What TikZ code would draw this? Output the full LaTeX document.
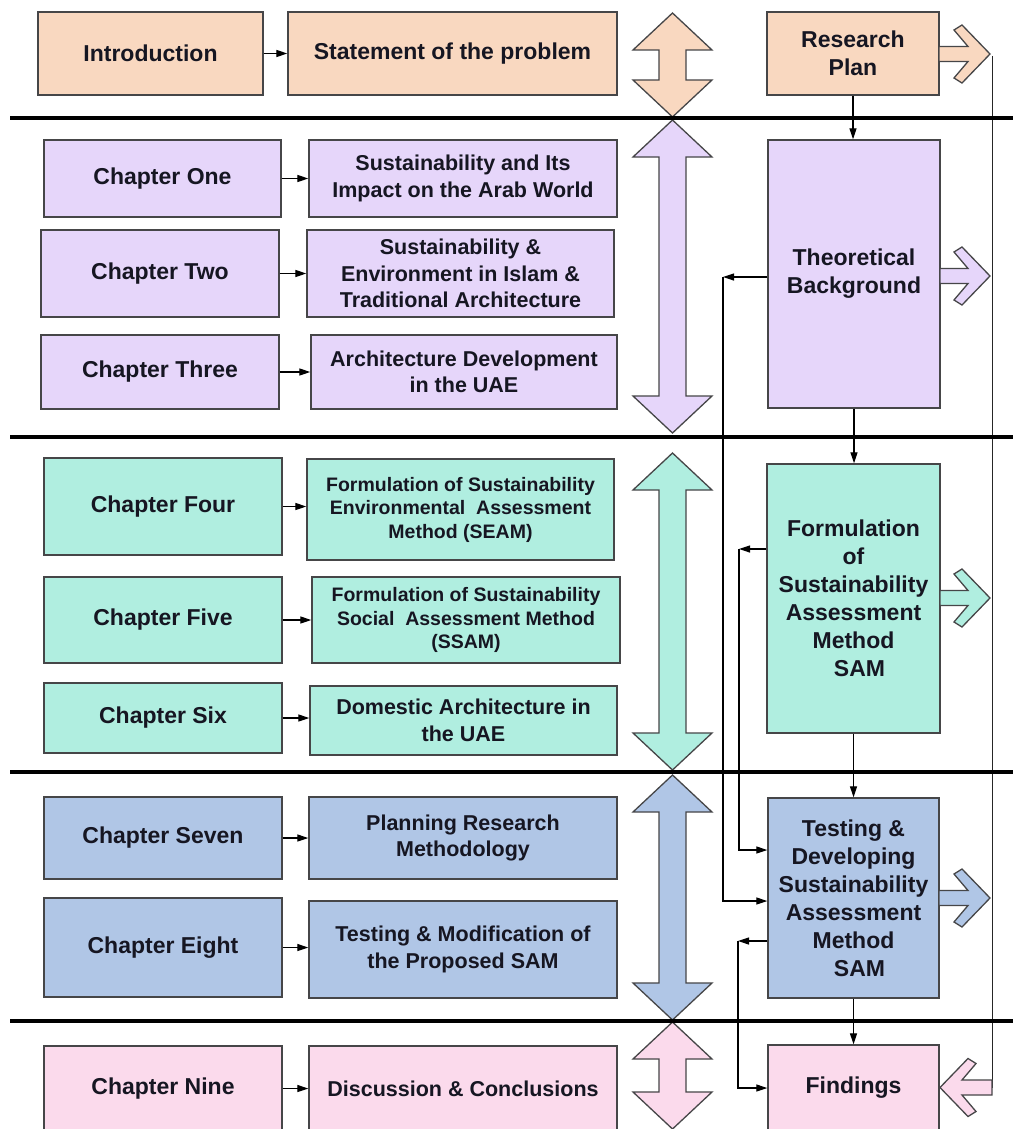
\documentclass[tikz,border=0pt]{standalone}
\usepackage{fontspec}
\setmainfont{Liberation Sans}
\usetikzlibrary{arrows.meta}

\definecolor{peach}{RGB}{249,216,192}
\definecolor{lav}{RGB}{230,214,250}
\definecolor{mint}{RGB}{176,238,224}
\definecolor{steel}{RGB}{176,198,230}
\definecolor{rose}{RGB}{251,218,236}
\definecolor{edgec}{RGB}{70,70,72}
\definecolor{txtc}{RGB}{22,22,34}

\tikzset{
  box/.style={draw=edgec, line width=1.4pt, text=txtc, align=center, inner sep=0pt,
              font=\bfseries\fontsize{23}{28}\selectfont},
  sub/.style={font=\bfseries\fontsize{21.5}{26.5}\selectfont},
  small/.style={font=\bfseries\fontsize{19.5}{23.5}\selectfont},
  conn/.style={draw=black, line width=1.2pt, -{Triangle[length=11pt,width=7pt]}},
  link/.style={draw=black!85, line width=1.2pt},
  sep/.style={draw=black, line width=4.5pt},
  blk/.style={draw=edgec, line width=1.3pt, line join=miter},
}

% right-pointing chevron block arrow: fill, start x, centre y
\newcommand\rightchev[3]{%
  \filldraw[blk, fill=#1] (#2,{#3-7.5}) -- (968,{#3-7.5}) -- (954,{#3-24}) -- (962,{#3-29})
    -- (990,#3) -- (962,{#3+29}) -- (954,{#3+24}) -- (968,{#3+7.5}) -- (#2,{#3+7.5}) -- cycle;}
% left-pointing chevron block arrow: fill, centre y
\newcommand\leftchev[2]{%
  \filldraw[blk, fill=#1] (992,{#2-7.5}) -- (962,{#2-7.5}) -- (976,{#2-24}) -- (968,{#2-29})
    -- (940,#2) -- (968,{#2+29}) -- (976,{#2+24}) -- (962,{#2+7.5}) -- (992,{#2+7.5}) -- cycle;}
% vertical double arrow: fill, top tip y, bottom tip y
\newcommand\dblarrow[3]{%
  \filldraw[blk, fill=#1] (672.5,#2) -- (712,{#2+37}) -- (686,{#2+37}) -- (686,{#3-37})
    -- (712,{#3-37}) -- (672.5,#3) -- (633,{#3-37}) -- (659,{#3-37}) -- (659,{#2+37})
    -- (633,{#2+37}) -- cycle;}

\begin{document}
\begin{tikzpicture}[x=1pt,y=-1pt]
\useasboundingbox (0,0) rectangle (1013,1129);
\fill[white] (0,0) rectangle (1013,1129);

% ---- stage arrows in the middle column
\dblarrow{peach}{13}{117}
\dblarrow{lav}{120}{433}
\dblarrow{mint}{453}{770}
\dblarrow{steel}{775}{1020}
\dblarrow{rose}{1022}{1129}

% ---- introduction
\node[box, fill=peach, minimum width=225pt, minimum height=83pt] (intro) at (150.5,53.5) {Introduction};
\node[box, fill=peach, minimum width=329pt, minimum height=83pt] (stmt) at (452.5,53.5) {Statement of the problem};
\node[box, fill=peach, minimum width=172pt, minimum height=83pt] (plan) at (853,53.5) {Research\\Plan};

% ---- part one
\node[box, fill=lav, minimum width=237pt, minimum height=77pt] (ch1) at (162.5,178.5) {Chapter One};
\node[box, sub, fill=lav, minimum width=308pt, minimum height=77pt] (ch1r) at (463,178.5) {Sustainability and Its\\Impact on the Arab World};
\node[box, fill=lav, minimum width=238pt, minimum height=87pt] (ch2) at (160,273.5) {Chapter Two};
\node[box, sub, fill=lav, minimum width=307pt, minimum height=87pt] (ch2r) at (460.5,273.5) {Sustainability \&\\Environment in Islam \&\\Traditional Architecture};
\node[box, fill=lav, minimum width=238pt, minimum height=74pt] (ch3) at (160,372) {Chapter Three};
\node[box, sub, fill=lav, minimum width=306pt, minimum height=74pt] (ch3r) at (464,372) {Architecture Development\\in the UAE};
\node[box, fill=lav, minimum width=172pt, minimum height=268pt] (theo) at (854,274) {Theoretical\\Background};

% ---- part two
\node[box, fill=mint, minimum width=238pt, minimum height=97pt] (ch4) at (163,506.5) {Chapter Four};
\node[box, small, fill=mint, minimum width=307pt, minimum height=101pt] (ch4r) at (460.5,509.5) {Formulation of Sustainability\\Environmental\ \ Assessment\\Method (SEAM)};
\node[box, fill=mint, minimum width=238pt, minimum height=86pt] (ch5) at (163,620) {Chapter Five};
\node[box, small, fill=mint, minimum width=308pt, minimum height=86pt] (ch5r) at (466,620) {Formulation of Sustainability\\Social\ \ Assessment Method\\(SSAM)};
\node[box, fill=mint, minimum width=238pt, minimum height=70pt] (ch6) at (163,718) {Chapter Six};
\node[box, sub, fill=mint, minimum width=307pt, minimum height=69pt] (ch6r) at (463.5,720.5) {Domestic Architecture in\\the UAE};
\node[box, fill=mint, minimum width=173pt, minimum height=269pt] (form) at (853.5,598.5) {Formulation\\of\\Sustainability\\Assessment\\Method\\\hspace*{12pt}SAM};

% ---- part three
\node[box, fill=steel, minimum width=238pt, minimum height=82pt] (ch7) at (163,838) {Chapter Seven};
\node[box, sub, fill=steel, minimum width=308pt, minimum height=82pt] (ch7r) at (463,838) {Planning Research\\Methodology};
\node[box, fill=steel, minimum width=238pt, minimum height=99pt] (ch8) at (163,947.5) {Chapter Eight};
\node[box, sub, fill=steel, minimum width=308pt, minimum height=97pt] (ch8r) at (463,949.5) {Testing \& Modification of\\the Proposed SAM};
\node[box, fill=steel, minimum width=171pt, minimum height=200pt] (test) at (853.5,898) {Testing \&\\Developing\\Sustainability\\Assessment\\Method\\\hspace*{12pt}SAM};

% ---- conclusion
\node[box, fill=rose, minimum width=238pt, minimum height=85pt] (ch9) at (163,1088.5) {Chapter Nine};
\node[box, sub, fill=rose, minimum width=308pt, minimum height=85pt] (ch9r) at (463,1088.5) {Discussion \& Conclusions};
\node[box, fill=rose, minimum width=171pt, minimum height=86pt] (find) at (853.5,1088) {Findings};

% ---- chapter to topic arrows
\foreach \a/\b in {intro/stmt, ch1/ch1r, ch2/ch2r, ch3/ch3r, ch4/ch4r, ch5/ch5r,
                   ch6/ch6r, ch7/ch7r, ch8/ch8r, ch9/ch9r}
  \draw[conn] (\a.east) -- (\a.east -| \b.west);

% ---- main sequence on the right
\draw[conn] (plan.south) -- (plan.south |- theo.north);
\draw[conn] (theo.south) -- (theo.south |- form.north);
\draw[conn] (form.south) -- (form.south |- test.north);
\draw[conn] (test.south) -- (test.south |- find.north);

% ---- feedback routes
\coordinate (c1) at (723,277);  \coordinate (e1) at (723,901);
\coordinate (c2) at (739,549);  \coordinate (e2) at (739,850);
\coordinate (c3) at (738,941);  \coordinate (e3) at (738,1088);
\draw[conn] (c1 -| theo.west) -- (c1);
\draw[conn] (c1) -- (e1) -- (e1 -| test.west);
\draw[conn] (c2 -| form.west) -- (c2);
\draw[conn] (c2) -- (e2) -- (e2 -| test.west);
\draw[conn] (c3 -| test.west) -- (c3);
\draw[conn] (c3) -- (e3) -- (e3 -| find.west);

% ---- outputs gathered on the right edge
\coordinate (rtop) at (992,56);
\coordinate (rbot) at (992,1088);
\draw[link, line width=1pt] (rtop) -- (rbot);
\rightchev{peach}{939}{54}
\rightchev{lav}{940}{276}
\rightchev{mint}{940}{598}
\rightchev{steel}{939}{898}
\leftchev{rose}{1087.5}

% ---- stage separators
\foreach \y in {118,437,772,1021}
  \draw[sep] (10,\y) -- (1013,\y);
\end{tikzpicture}
\end{document}
